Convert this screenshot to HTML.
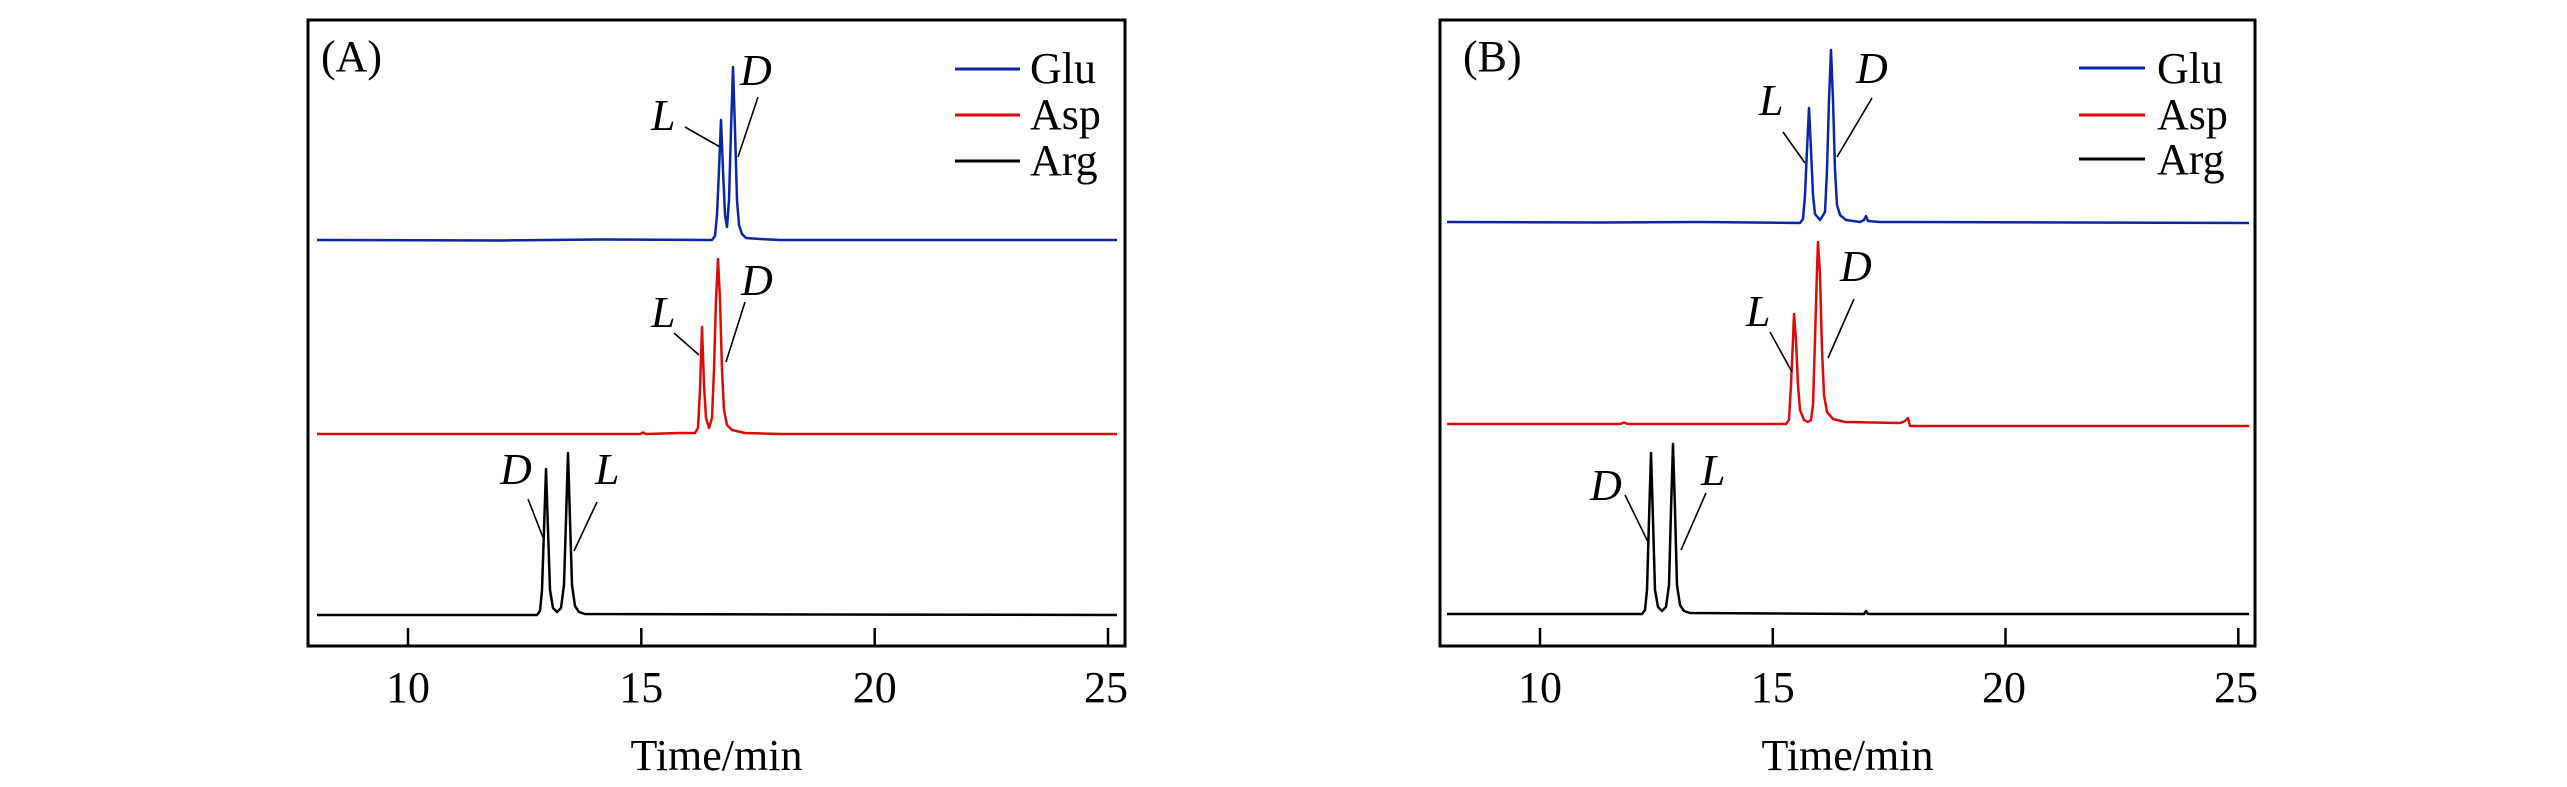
<!DOCTYPE html>
<html>
<head>
<meta charset="utf-8">
<style>
  html, body { margin: 0; padding: 0; background: #ffffff; }
  svg { display: block; }
  text { font-family: "Liberation Serif", "Times New Roman", serif; fill: #000; }
  .it { font-style: italic; }
</style>
</head>
<body>
<svg width="2567" height="787" viewBox="0 0 2567 787" xmlns="http://www.w3.org/2000/svg">
  <rect x="0" y="0" width="2567" height="787" fill="#ffffff"/>

  <!-- ================= PANEL A ================= -->
  <rect x="308" y="20" width="817" height="626" fill="none" stroke="#000" stroke-width="3"/>
  <!-- ticks -->
  <g stroke="#000" stroke-width="2.5">
    <line x1="408" y1="628" x2="408" y2="646"/>
    <line x1="641.3" y1="628" x2="641.3" y2="646"/>
    <line x1="874.7" y1="628" x2="874.7" y2="646"/>
    <line x1="1108" y1="628" x2="1108" y2="646"/>
  </g>
  <g font-size="44" text-anchor="middle">
    <text x="408" y="702">10</text>
    <text x="641.3" y="702">15</text>
    <text x="874.7" y="702">20</text>
    <text x="1106" y="702">25</text>
    <text x="716.5" y="770">Time/min</text>
  </g>
  <text x="321" y="71" font-size="44">(A)</text>

  <!-- legend A -->
  <g stroke-width="3">
    <line x1="955" y1="69" x2="1020" y2="69" stroke="#0b24a8"/>
    <line x1="955" y1="115" x2="1020" y2="115" stroke="#dd0a0a"/>
    <line x1="955" y1="161" x2="1020" y2="161" stroke="#000"/>
  </g>
  <g font-size="44">
    <text x="1030" y="83">Glu</text>
    <text x="1030" y="129">Asp</text>
    <text x="1030" y="175">Arg</text>
  </g>

  <!-- series A -->
  <g fill="none" stroke-width="2.5" stroke-linejoin="round">
    <path stroke="#0b24a8" d="M317 240 L500 240.5 L600 239.5 L712 240 L715 236 L717 215 L719 170 L721 120 L723 170 L725 215 L727 227 L729 200 L731 130 L733 67 L735 130 L737 200 L739 225 L742 234 L746 238 L760 239 L780 240 L1117 240"/>
    <path stroke="#dd0a0a" d="M317 434 L640 434 L643 432.5 L646 434 L680 433 L695 433 L698 428 L700 390 L702 327 L704 385 L706 418 L709 428 L712 418 L714 370 L716 300 L718 259 L720 300 L722 370 L724 410 L727 425 L732 430 L745 433 L780 434 L1117 434"/>
    <path stroke="#000" d="M317 615 L537 615 L540 611 L542 590 L544 530 L546 469 L548 530 L550 590 L553 608 L557 612 L561 608 L564 585 L566 520 L568 453 L570 520 L572 585 L575 606 L579 612 L585 614 L1117 615"/>
  </g>

  <!-- leader lines A -->
  <g stroke="#000" stroke-width="1.6">
    <line x1="685" y1="127" x2="720" y2="147"/>
    <line x1="758" y1="97" x2="738" y2="157"/>
    <line x1="674" y1="333" x2="699" y2="355"/>
    <line x1="745" y1="302" x2="726" y2="362"/>
    <line x1="528" y1="499" x2="544" y2="540"/>
    <line x1="597" y1="502" x2="574" y2="551"/>
  </g>
  <g font-size="44" class="it">
    <text x="651" y="130">L</text>
    <text x="740" y="85">D</text>
    <text x="651" y="327">L</text>
    <text x="741" y="295">D</text>
    <text x="500" y="484">D</text>
    <text x="595" y="484">L</text>
  </g>

  <!-- ================= PANEL B ================= -->
  <rect x="1440" y="20" width="815" height="626" fill="none" stroke="#000" stroke-width="3"/>
  <g stroke="#000" stroke-width="2.5">
    <line x1="1540" y1="628" x2="1540" y2="646"/>
    <line x1="1772.8" y1="628" x2="1772.8" y2="646"/>
    <line x1="2005.5" y1="628" x2="2005.5" y2="646"/>
    <line x1="2238.3" y1="628" x2="2238.3" y2="646"/>
  </g>
  <g font-size="44" text-anchor="middle">
    <text x="1540" y="702">10</text>
    <text x="1772.8" y="702">15</text>
    <text x="2004" y="702">20</text>
    <text x="2236" y="702">25</text>
    <text x="1847.5" y="770">Time/min</text>
  </g>
  <text x="1463" y="71" font-size="44">(B)</text>

  <!-- legend B -->
  <g stroke-width="3">
    <line x1="2079" y1="68" x2="2145" y2="68" stroke="#0b24a8"/>
    <line x1="2079" y1="115" x2="2145" y2="115" stroke="#dd0a0a"/>
    <line x1="2079" y1="159" x2="2145" y2="159" stroke="#000"/>
  </g>
  <g font-size="44">
    <text x="2157" y="83">Glu</text>
    <text x="2157" y="129">Asp</text>
    <text x="2157" y="174">Arg</text>
  </g>

  <!-- series B -->
  <g fill="none" stroke-width="2.5" stroke-linejoin="round">
    <path stroke="#0b24a8" d="M1447 222 L1600 222.5 L1700 222 L1800 223 L1803 219 L1805 195 L1807 150 L1809 108 L1811 150 L1813 195 L1815 214 L1820 220 L1825 212 L1827 170 L1829 100 L1831 50 L1833 100 L1835 170 L1837 205 L1840 215 L1846 220 L1860 222 L1864 220 L1866 216 L1868 221 L1880 222 L1910 222 L2249 223"/>
    <path stroke="#dd0a0a" d="M1447 424 L1620 424 L1624 422.5 L1628 424 L1786 424 L1789 420 L1791 385 L1793 340 L1794 314 L1796 340 L1798 385 L1800 410 L1804 420 L1808 422 L1811 420 L1813 405 L1815 340 L1817 270 L1818 242 L1820 275 L1822 350 L1824 395 L1827 412 L1833 419 L1845 422 L1900 423 L1905 421 L1908 418 L1910 426 L2249 426"/>
    <path stroke="#000" d="M1447 614 L1642 614 L1645 610 L1647 590 L1649 520 L1651 453 L1653 520 L1655 590 L1658 607 L1662 611 L1666 607 L1669 585 L1671 510 L1673 444 L1675 510 L1677 585 L1680 605 L1684 611 L1690 613 L1864 614 L1866 611 L1868 614 L2249 614"/>
  </g>

  <!-- leader lines B -->
  <g stroke="#000" stroke-width="1.6">
    <line x1="1783" y1="132" x2="1805" y2="163"/>
    <line x1="1872" y1="98" x2="1837" y2="157"/>
    <line x1="1770" y1="332" x2="1792" y2="372"/>
    <line x1="1854" y1="299" x2="1828" y2="358"/>
    <line x1="1625" y1="495" x2="1648" y2="542"/>
    <line x1="1706" y1="493" x2="1681" y2="550"/>
  </g>
  <g font-size="44" class="it">
    <text x="1759" y="115">L</text>
    <text x="1856" y="83">D</text>
    <text x="1746" y="326">L</text>
    <text x="1840" y="281">D</text>
    <text x="1590" y="500">D</text>
    <text x="1701" y="485">L</text>
  </g>
</svg>
</body>
</html>
